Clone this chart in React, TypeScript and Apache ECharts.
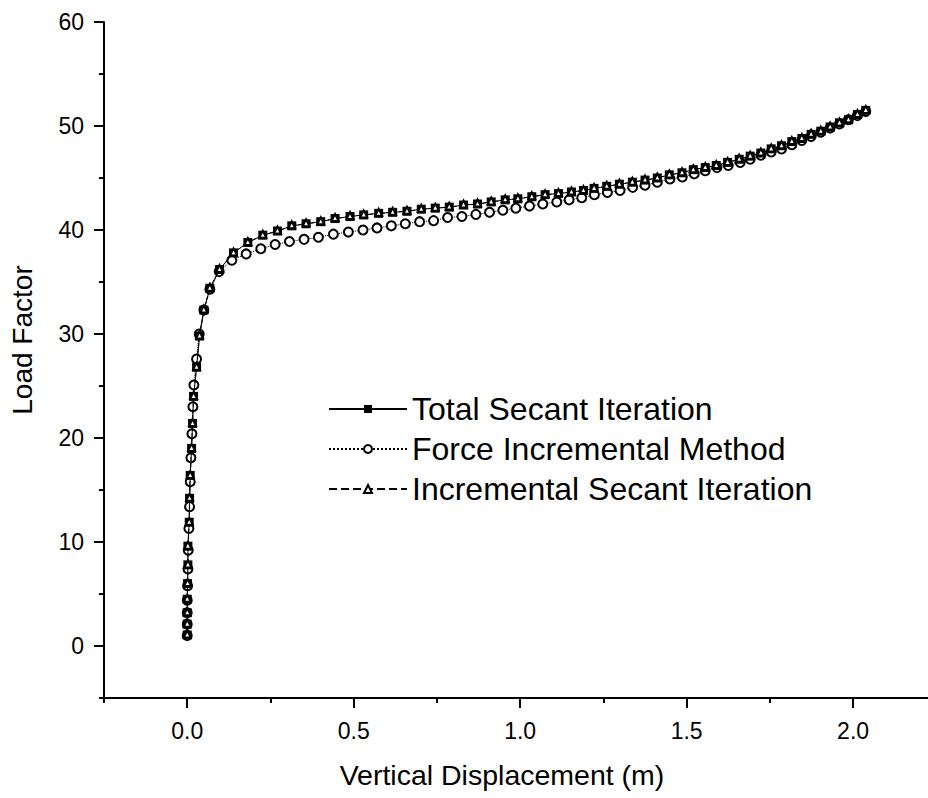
import React, { useEffect, useRef } from "react";
import * as echarts from "echarts";

const xMajorTicks = [0, 0.5, 1, 1.5, 2];
const xMinorTicks = [-0.25, 0.25, 0.75, 1.25, 1.75];
const yMajorTicks = [0, 10, 20, 30, 40, 50, 60];
const yMinorTicks = [-5, 5, 15, 25, 35, 45, 55];

const seriesNames = ["Total Secant Iteration", "Force Incremental Method", "Incremental Secant Iteration"];

const totalSecant: [number, number][] = [
  [0, 1.06], [0, 2.1], [0, 3.2], [0, 4.5], [0.001, 6.0], [0.002, 7.8], [0.002, 9.6], [0.006, 11.9],
  [0.007, 14.2], [0.009, 16.4], [0.013, 19.0], [0.016, 21.4], [0.019, 24.0], [0.028, 26.8], [0.037, 29.8],
  [0.05, 32.3], [0.068, 34.4], [0.097, 36.2], [0.139, 37.8], [0.182, 38.8], [0.227, 39.5], [0.271, 39.9],
  [0.314, 40.4], [0.357, 40.6], [0.401, 40.8], [0.444, 41.1], [0.489, 41.3], [0.53, 41.45], [0.575, 41.6],
  [0.617, 41.7], [0.66, 41.8], [0.703, 42.0], [0.745, 42.1], [0.787, 42.2], [0.83, 42.4], [0.872, 42.5],
  [0.913, 42.7], [0.955, 42.9], [0.993, 43.0], [1.035, 43.2], [1.075, 43.4], [1.115, 43.5], [1.154, 43.65],
  [1.19, 43.8], [1.222, 44.0], [1.26, 44.2], [1.298, 44.4], [1.337, 44.6], [1.375, 44.8], [1.412, 45.0],
  [1.448, 45.3], [1.486, 45.5], [1.52, 45.8], [1.556, 46.0], [1.589, 46.2], [1.623, 46.5], [1.658, 46.8],
  [1.691, 47.1], [1.723, 47.4], [1.754, 47.8], [1.785, 48.1], [1.816, 48.5], [1.846, 48.8], [1.874, 49.2],
  [1.903, 49.5], [1.931, 49.9], [1.959, 50.3], [1.986, 50.6], [2.013, 51.1], [2.038, 51.5],
];

const forceIncremental: [number, number][] = [
  [0, 1.0], [0, 2.1], [0, 3.2], [0, 4.4], [0.001, 5.8], [0.002, 7.4], [0.003, 9.2], [0.005, 11.3],
  [0.007, 13.4], [0.009, 15.8], [0.011, 18.1], [0.014, 20.4], [0.017, 23.0], [0.02, 25.1], [0.028, 27.6],
  [0.036, 30.0], [0.05, 32.3], [0.068, 34.3], [0.096, 36.0], [0.134, 37.1], [0.177, 37.7], [0.221, 38.2],
  [0.264, 38.6], [0.307, 38.9], [0.351, 39.1], [0.394, 39.3], [0.439, 39.6], [0.484, 39.8], [0.528, 40.0],
  [0.57, 40.2], [0.613, 40.4], [0.655, 40.6], [0.698, 40.8], [0.74, 40.9], [0.782, 41.2], [0.825, 41.3],
  [0.867, 41.5], [0.908, 41.7], [0.948, 41.9], [0.987, 42.1], [1.028, 42.3], [1.068, 42.5], [1.11, 42.7],
  [1.147, 42.9], [1.185, 43.1], [1.223, 43.4], [1.262, 43.6], [1.3, 43.8], [1.338, 44.1], [1.375, 44.3],
  [1.412, 44.6], [1.45, 44.9], [1.487, 45.1], [1.523, 45.4], [1.556, 45.7], [1.591, 46.0], [1.625, 46.2],
  [1.661, 46.5], [1.691, 46.8], [1.723, 47.2], [1.754, 47.5], [1.785, 47.8], [1.816, 48.2], [1.846, 48.6],
  [1.874, 49.0], [1.903, 49.4], [1.931, 49.8], [1.959, 50.2], [1.986, 50.6], [2.013, 51.0], [2.038, 51.4],
];

const incrementalSecant: [number, number][] = totalSecant.map((p) => [p[0], p[1]] as [number, number]);

const FONT = "'Liberation Sans', Arial, Helvetica, sans-serif";

export default function App() {
  const ref = useRef<HTMLDivElement>(null);
  useEffect(() => {
    if (!ref.current) return;
    const chart = echarts.init(ref.current, undefined, { renderer: "svg" });
    const axisColor = "#000";
    const xBase = { type: "value", min: -0.25, max: 2.225, position: "bottom", splitLine: { show: false } };
    const yBase = { type: "value", min: -5, max: 60, position: "left", splitLine: { show: false } };
    chart.setOption({
      animation: false,
      backgroundColor: "#fff",
      grid: { left: 103, right: 0, top: 22, bottom: 100, containLabel: false },
      legend: {
        orient: "vertical",
        left: 328,
        top: 393,
        itemGap: 8,
        itemWidth: 78,
        itemHeight: 10,
        padding: 0,
        data: seriesNames,
        textStyle: { fontSize: 32, color: "#000", fontFamily: FONT },
      },
      xAxis: [
        {
          ...xBase,
          axisLine: { show: true, onZero: false, lineStyle: { color: axisColor, width: 2 } },
          axisTick: { show: true, inside: false, length: 10, customValues: xMajorTicks, lineStyle: { color: axisColor, width: 2 } },
          axisLabel: {
            customValues: xMajorTicks,
            formatter: (v: number) => v.toFixed(1),
            fontSize: 23,
            color: "#000",
            fontFamily: FONT,
            margin: 21,
          },
          name: "Vertical Displacement (m)",
          nameLocation: "middle",
          nameGap: 62,
          nameTextStyle: { fontSize: 28.5, color: "#000", fontFamily: FONT, padding: [0, 28, 0, 0] },
        },
        {
          ...xBase,
          axisLine: { show: false, onZero: false },
          axisTick: { show: true, inside: false, length: 5, customValues: xMinorTicks, lineStyle: { color: axisColor, width: 2 } },
          axisLabel: { show: false },
        },
      ],
      yAxis: [
        {
          ...yBase,
          axisLine: { show: true, onZero: false, lineStyle: { color: axisColor, width: 2 } },
          axisTick: { show: true, inside: false, length: 10, customValues: yMajorTicks, lineStyle: { color: axisColor, width: 2 } },
          axisLabel: {
            customValues: yMajorTicks,
            formatter: (v: number) => String(v),
            fontSize: 23,
            color: "#000",
            fontFamily: FONT,
            margin: 20,
          },
          name: "Load Factor",
          nameLocation: "middle",
          nameGap: 68,
          nameTextStyle: { fontSize: 28, color: "#000", fontFamily: FONT, padding: [0, 0, 0, 40] },
        },
        {
          ...yBase,
          axisLine: { show: false, onZero: false },
          axisTick: { show: true, inside: false, length: 5, customValues: yMinorTicks, lineStyle: { color: axisColor, width: 2 } },
          axisLabel: { show: false },
        },
      ],
      series: [
        {
          name: seriesNames[1],
          type: "line",
          data: forceIncremental,
          symbol: "emptyCircle",
          symbolSize: 9,
          z: 2,
          lineStyle: { color: "#000", width: 1, type: "dotted" },
          itemStyle: { color: "#000", borderColor: "#000", borderWidth: 1 },
        },
        {
          name: seriesNames[0],
          type: "line",
          data: totalSecant,
          symbol: "rect",
          symbolSize: 9,
          z: 3,
          lineStyle: { color: "#000", width: 1, type: "solid" },
          itemStyle: { color: "#000" },
        },
        {
          name: seriesNames[2],
          type: "line",
          data: incrementalSecant,
          symbol: "emptyTriangle",
          symbolSize: 7,
          symbolOffset: [0, -1],
          z: 4,
          lineStyle: { color: "#000", width: 1, type: "dashed" },
          itemStyle: { color: "#000", borderColor: "#000", borderWidth: 1 },
        },
      ],
    });
    return () => chart.dispose();
  }, []);
  return (
    <div
      ref={ref}
      style={{ position: "absolute", left: 0, top: 0, width: 928, height: 798, background: "#fff" }}
    />
  );
}
